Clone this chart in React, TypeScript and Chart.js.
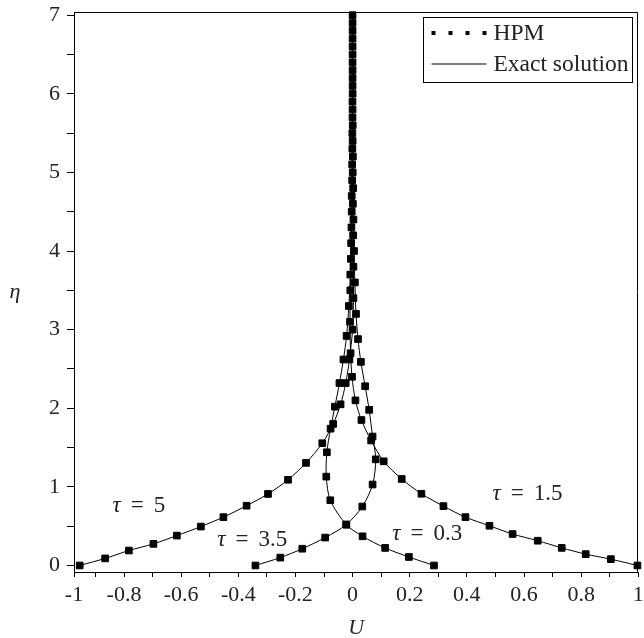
import React, { useEffect, useRef } from "react";
import { Chart, registerables } from "chart.js";

Chart.register(...registerables);

// ---- data (U on x, eta on y) ----
const eta5 = [0, 0.09, 0.19, 0.275, 0.38, 0.495, 0.615, 0.76, 0.91, 1.09, 1.305, 1.555, 1.8, 2.05, 2.32, 2.62, 3.0, 3.4, 3.8, 4.2, 4.6, 5.0, 5.4, 5.8, 6.2, 6.6, 7.0];
const u5 = [-0.955, -0.866, -0.783, -0.697, -0.615, -0.531, -0.452, -0.371, -0.296, -0.226, -0.163, -0.106, -0.068, -0.042, -0.024, -0.011, 0.0, 0.003, 0.003, 0.002, 0.001, 0.0005, 0.0002, 0, 0, 0, 0];

const eta15 = [0, 0.08, 0.144, 0.224, 0.315, 0.4, 0.505, 0.615, 0.755, 0.912, 1.1, 1.325, 1.59, 1.85, 2.1, 2.4, 2.7, 3.1, 3.5, 3.9, 4.3, 4.7, 5.1, 5.5, 5.9, 6.3, 6.7];
const u15 = [0.997, 0.904, 0.816, 0.732, 0.648, 0.56, 0.479, 0.395, 0.318, 0.241, 0.172, 0.109, 0.065, 0.031, 0.01, -0.002, -0.007, -0.009, -0.008, -0.006, -0.004, -0.003, -0.0015, -0.0008, -0.0003, 0, 0];

const eta35 = [0, 0.1, 0.213, 0.355, 0.52, 0.75, 1.03, 1.35, 1.64, 1.98, 2.28, 2.59, 2.88, 3.2, 3.6, 4.0, 4.4, 4.8, 5.2, 5.6, 6.0, 6.4, 6.8];
const u35 = [-0.34, -0.253, -0.176, -0.096, -0.022, 0.034, 0.07, 0.081, 0.07, 0.058, 0.044, 0.029, 0.019, 0.012, 0.008, 0.005, 0.003, 0.002, 0.001, 0.0005, 0.0002, 0, 0];

const eta03 = [0, 0.108, 0.223, 0.371, 0.52, 0.83, 1.13, 1.44, 1.74, 2.02, 2.32, 2.62, 2.92, 3.3, 3.7, 4.1, 4.5, 4.9, 5.3, 5.7, 6.1, 6.5, 6.9];
const u03 = [0.285, 0.197, 0.114, 0.035, -0.022, -0.078, -0.092, -0.09, -0.077, -0.062, -0.046, -0.032, -0.021, -0.013, -0.008, -0.005, -0.003, -0.0015, -0.0008, -0.0003, 0, 0, 0];

const tauValues = ["5", "1.5", "3.5", "0.3"];
const seriesEta = [eta5, eta15, eta35, eta03];
const seriesU = [u5, u15, u35, u03];

const xTickValues = [-0.975, -0.9, -0.8, -0.7, -0.6, -0.5, -0.4, -0.3, -0.2, -0.1, 0, 0.1, 0.2, 0.3, 0.4, 0.5, 0.6, 0.7, 0.8, 0.9, 1.0];
const xTickLabels = ["-1", "", "-0.8", "", "-0.6", "", "-0.4", "", "-0.2", "", "0", "", "0.2", "", "0.4", "", "0.6", "", "0.8", "", "1"];
const yTickValues = [0, 0.5, 1, 1.5, 2, 2.5, 3, 3.5, 4, 4.5, 5, 5.5, 6, 6.5, 7];
const yTickLabels = ["0", "", "1", "", "2", "", "3", "", "4", "", "5", "", "6", "", "7"];

const legendLabels = ["HPM", "Exact solution"];
const xTitle = "U";
const yTitle = "η";

// text annotations placed in data coordinates
const tauAnnotations = [
  { value: "5", x: -0.748, y: 0.753 },
  { value: "3.5", x: -0.351, y: 0.32 },
  { value: "0.3", x: 0.261, y: 0.397 },
  { value: "1.5", x: 0.612, y: 0.906 },
];

const FONT = "'Liberation Serif', 'Times New Roman', serif";

const overlayPlugin = {
  id: "overlay",
  afterDraw(chart: any) {
    const { ctx, chartArea: a, scales } = chart;
    const xs = scales.x;
    const ys = scales.y;
    ctx.save();
    // frame
    ctx.strokeStyle = "#000";
    ctx.lineWidth = 1;
    const l = Math.round(a.left) + 0.5;
    const t = Math.round(a.top) + 0.5;
    const r = Math.round(a.right) - 0.5;
    const b = Math.round(a.bottom) + 0.5;
    ctx.beginPath();
    ctx.moveTo(l, b);
    ctx.lineTo(l, t);
    ctx.lineTo(r, t);
    ctx.lineTo(r, b);
    ctx.lineTo(l, b);
    ctx.stroke();

    // tau labels
    ctx.fillStyle = "#222";
    ctx.textBaseline = "middle";
    ctx.textAlign = "left";
    const gap = 10;
    tauAnnotations.forEach((an) => {
      const px = xs.getPixelForValue(an.x);
      const py = ys.getPixelForValue(an.y);
      ctx.font = `italic 23px ${FONT}`;
      const wt = ctx.measureText("τ").width;
      ctx.font = `23px ${FONT}`;
      const we = ctx.measureText("=").width;
      const wv = ctx.measureText(an.value).width;
      let sx = px - (wt + gap + we + gap + wv) / 2;
      ctx.font = `italic 23px ${FONT}`;
      ctx.fillText("τ", sx, py);
      sx += wt + gap;
      ctx.font = `23px ${FONT}`;
      ctx.fillText("=", sx, py);
      sx += we + gap;
      ctx.fillText(an.value, sx, py);
    });

    // axis titles
    ctx.font = `italic 22px ${FONT}`;
    ctx.textAlign = "center";
    ctx.fillText(xTitle, (a.left + a.right) / 2, a.bottom + 56);
    ctx.fillText(yTitle, 15, (a.top + a.bottom) / 2);

    // legend
    const boxR = Math.round(a.right) - 5.5;
    const boxL = boxR - 209;
    const boxT = Math.round(a.top) + 5.5;
    const boxH = 65;
    ctx.strokeStyle = "#000";
    ctx.lineWidth = 1;
    ctx.strokeRect(boxL, boxT, boxR - boxL, boxH);
    const row1 = boxT + 15.5;
    const row2 = boxT + 46.5;
    ctx.fillStyle = "#000";
    [0, 1, 2, 3].forEach((i) => {
      const cx = boxL + 10 + i * 17;
      ctx.fillRect(cx - 2, row1 - 2, 4, 4);
    });
    ctx.beginPath();
    ctx.moveTo(boxL + 8, row2);
    ctx.lineTo(boxL + 63, row2);
    ctx.stroke();
    ctx.fillStyle = "#222";
    ctx.textAlign = "left";
    ctx.font = `23.5px ${FONT}`;
    ctx.fillText(legendLabels[0], boxL + 70, row1 + 1);
    ctx.fillText(legendLabels[1], boxL + 70, row2 + 1);
    ctx.restore();
  },
};

export default function App() {
  const ref = useRef<HTMLCanvasElement | null>(null);

  useEffect(() => {
    document.body.style.margin = "0";
    document.body.style.overflow = "hidden";
    const canvas = ref.current;
    if (!canvas) return;

    const datasets = tauValues.map((tau, k) => ({
      label: "tau = " + tau,
      data: seriesEta[k].map((e, i) => ({ x: seriesU[k][i], y: e })),
      showLine: true,
      borderColor: "#000",
      borderWidth: 1,
      tension: 0.3,
      pointStyle: "rect",
      pointRadius: 4.7,
      pointBackgroundColor: "#000",
      pointBorderColor: "#000",
      pointBorderWidth: 1,
      clip: 6,
    }));

    const tickFont = { family: FONT, size: 22 };

    const chart = new Chart(canvas, {
      type: "scatter",
      data: { datasets },
      plugins: [overlayPlugin],
      options: {
        animation: false,
        responsive: false,
        devicePixelRatio: 1,
        layout: { padding: { top: 12, right: 1.5, left: 0, bottom: 0 } },
        plugins: { legend: { display: false }, tooltip: { enabled: false } },
        scales: {
          x: {
            type: "linear",
            min: -0.975,
            max: 1.0,
            afterBuildTicks: (scale: any) => {
              scale.ticks = xTickValues.map((v) => ({ value: v }));
            },
            afterFit: (scale: any) => {
              scale.height = 66;
              scale.paddingLeft = 0;
              scale.paddingRight = 0;
            },
            ticks: {
              autoSkip: false,
              maxRotation: 0,
              color: "#222",
              font: tickFont,
              padding: 5,
              callback: (_v: any, i: number) => xTickLabels[i],
            },
            grid: {
              display: true,
              drawOnChartArea: false,
              drawTicks: true,
              tickLength: 5,
              color: "#000",
              tickWidth: 1,
            },
            border: { display: true, color: "#000", width: 1 },
          },
          y: {
            type: "linear",
            min: -0.083,
            max: 7.04,
            afterBuildTicks: (scale: any) => {
              scale.ticks = yTickValues.map((v) => ({ value: v }));
            },
            afterFit: (scale: any) => {
              scale.width = 74;
              scale.paddingTop = 0;
              scale.paddingBottom = 0;
            },
            ticks: {
              autoSkip: false,
              color: "#222",
              font: tickFont,
              padding: 7,
              callback: (_v: any, i: number) => yTickLabels[i],
            },
            grid: {
              display: true,
              drawOnChartArea: false,
              drawTicks: true,
              tickLength: 7,
              color: "#000",
              tickWidth: 1,
            },
            border: { display: true, color: "#000", width: 1 },
          },
        },
      },
    } as any);

    return () => chart.destroy();
  }, []);

  return (
    <div style={{ width: 644, height: 638 }}>
      <canvas ref={ref} width={644} height={638} style={{ display: "block" }} />
    </div>
  );
}
